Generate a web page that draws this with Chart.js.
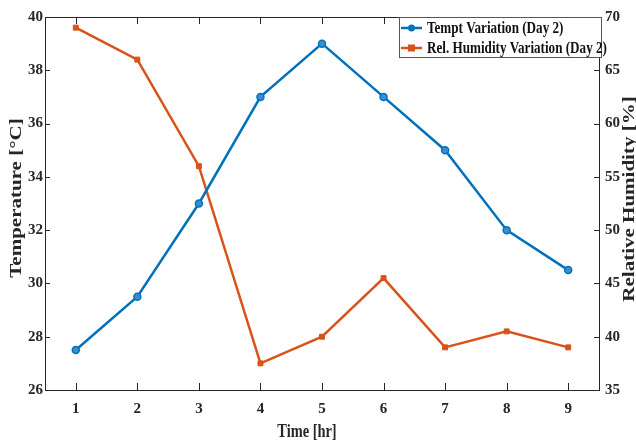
<!DOCTYPE html>
<html>
<head>
<meta charset="utf-8">
<script src="https://cdn.jsdelivr.net/npm/chart.js@4.4.1/dist/chart.umd.min.js"></script>
<style>
  html, body { margin: 0; padding: 0; background: #fff; }
  canvas { display: block; }
</style>
</head>
<body>
<canvas id="grafico" width="636" height="443"></canvas>
<script>
const horas = [1, 2, 3, 4, 5, 6, 7, 8, 9];
const temperatura = [27.5, 29.5, 33, 37, 39, 37, 35, 32, 30.5];
const umidade = [69, 66, 56, 37.5, 40, 45.5, 39, 40.5, 39];
const ticksTemp = [26, 28, 30, 32, 34, 36, 38, 40];
const ticksUmid = [35, 40, 45, 50, 55, 60, 65, 70];

const AZUL = '#0072BD';
const LARANJA = '#D95319';
const FONTE = 'Liberation Serif';
const COR_TEXTO = '#262626';

// texto em negrito um pouco estreitado, opcionalmente girado
function textoEstreito(ctx, texto, x, y, tamanho, giro, aperto) {
    ctx.save();
    ctx.fillStyle = COR_TEXTO;
    ctx.font = 'bold ' + tamanho + 'px ' + FONTE;
    ctx.textAlign = 'center';
    ctx.textBaseline = 'middle';
    ctx.translate(x, y);
    if (giro) {
        ctx.rotate(-Math.PI / 2);
        ctx.scale(1, aperto);
    } else {
        ctx.scale(aperto, 1);
    }
    ctx.fillText(texto, 0, 0);
    ctx.restore();
}

// caixa do gráfico, marcas internas, títulos dos eixos e legenda
const molduraPlugin = {
    id: 'moldura',
    afterDraw(chart) {
        const ctx = chart.ctx;
        const a = chart.chartArea;
        const sx = chart.scales.x, yl = chart.scales.y, yr = chart.scales.y2;
        ctx.save();
        ctx.strokeStyle = COR_TEXTO;
        ctx.lineWidth = 1;
        ctx.beginPath();
        horas.forEach(h => {
            const px = Math.round(sx.getPixelForValue(h)) + 0.5;
            ctx.moveTo(px, a.bottom); ctx.lineTo(px, a.bottom - 7);
            ctx.moveTo(px, a.top); ctx.lineTo(px, a.top + 7);
        });
        ticksTemp.forEach(v => {
            const py = Math.round(yl.getPixelForValue(v)) + 0.5;
            ctx.moveTo(a.left, py); ctx.lineTo(a.left + 5, py);
        });
        ticksUmid.forEach(v => {
            const py = Math.round(yr.getPixelForValue(v)) + 0.5;
            ctx.moveTo(a.right, py); ctx.lineTo(a.right - 5, py);
        });
        ctx.stroke();
        ctx.strokeRect(Math.round(a.left) + 0.5, Math.round(a.top) + 0.5,
            Math.round(a.right - a.left), Math.round(a.bottom - a.top));
        ctx.restore();

        textoEstreito(ctx, 'Temperature [°C]', 17, 198, 21, true, 0.82);
        textoEstreito(ctx, 'Relative Humidity [%]', 630, 199, 21, true, 0.82);
        textoEstreito(ctx, 'Time [hr]', 307, 432, 18, false, 0.8);

        // legenda
        ctx.save();
        const lx = 399, ly = 17, lw = 202, lh = 40;
        ctx.fillStyle = '#fff';
        ctx.fillRect(lx, ly, lw, lh);
        ctx.strokeStyle = '#555';
        ctx.lineWidth = 1;
        ctx.strokeRect(lx + 0.5, ly + 0.5, lw, lh);
        const itens = [
            { texto: 'Tempt Variation (Day 2)', cor: AZUL, marca: 'circle', y: 28 },
            { texto: 'Rel. Humidity Variation (Day 2)', cor: LARANJA, marca: 'rect', y: 48 }
        ];
        itens.forEach(it => {
            ctx.strokeStyle = it.cor;
            ctx.fillStyle = it.cor;
            ctx.lineWidth = 2.5;
            ctx.beginPath();
            ctx.moveTo(401, it.y); ctx.lineTo(422, it.y);
            ctx.stroke();
            if (it.marca === 'circle') {
                ctx.beginPath();
                ctx.arc(411.5, it.y, 3.5, 0, Math.PI * 2);
                ctx.fill();
            } else {
                ctx.fillRect(408, it.y - 3.5, 7, 7);
            }
            ctx.fillStyle = '#111';
            ctx.font = 'bold 16px ' + FONTE;
            ctx.textAlign = 'left';
            ctx.textBaseline = 'middle';
            ctx.save();
            ctx.translate(427, it.y + 1);
            ctx.scale(0.82, 1);
            ctx.fillText(it.texto, 0, 0);
            ctx.restore();
        });
        ctx.restore();
    }
};

const fonteTicks = { family: FONTE, size: 15, weight: 'bold' };
const semGrade = { display: false, drawTicks: false };

new Chart(document.getElementById('grafico'), {
    type: 'line',
    data: {
        datasets: [{
            label: 'Tempt Variation (Day 2)',
            data: horas.map((h, i) => ({ x: h, y: temperatura[i] })),
            borderColor: AZUL,
            backgroundColor: '#3f8ccc',
            borderWidth: 2.5,
            pointStyle: 'circle',
            pointRadius: 3.5,
            pointBorderWidth: 1.5,
            yAxisID: 'y'
        }, {
            label: 'Rel. Humidity Variation (Day 2)',
            data: horas.map((h, i) => ({ x: h, y: umidade[i] })),
            borderColor: LARANJA,
            backgroundColor: LARANJA,
            borderWidth: 2.5,
            pointStyle: 'rect',
            pointRadius: 3.5,
            pointBorderWidth: 1,
            yAxisID: 'y2'
        }]
    },
    options: {
        responsive: false,
        animation: false,
        layout: { padding: { top: 17, left: 0, right: 0, bottom: 0 } },
        plugins: {
            legend: { display: false },
            tooltip: { enabled: false }
        },
        scales: {
            x: {
                type: 'linear',
                min: 0.5,
                max: 9.5,
                afterBuildTicks(scale) { scale.ticks = horas.map(v => ({ value: v })); },
                afterFit(scale) { scale.height = 53; },
                grid: semGrade,
                border: { display: false },
                ticks: { color: COR_TEXTO, font: fonteTicks, padding: 10, autoSkip: false, maxRotation: 0 }
            },
            y: {
                position: 'left',
                min: 26,
                max: 40,
                afterBuildTicks(scale) { scale.ticks = ticksTemp.map(v => ({ value: v })); },
                afterFit(scale) { scale.width = 45; },
                grid: semGrade,
                border: { display: false },
                ticks: { color: COR_TEXTO, font: fonteTicks, padding: 2, autoSkip: false }
            },
            y2: {
                position: 'right',
                min: 35,
                max: 70,
                afterBuildTicks(scale) { scale.ticks = ticksUmid.map(v => ({ value: v })); },
                afterFit(scale) { scale.width = 37; },
                grid: semGrade,
                border: { display: false },
                ticks: { color: COR_TEXTO, font: fonteTicks, padding: 6, autoSkip: false }
            }
        }
    },
    plugins: [molduraPlugin]
});
</script>
</body>
</html>
